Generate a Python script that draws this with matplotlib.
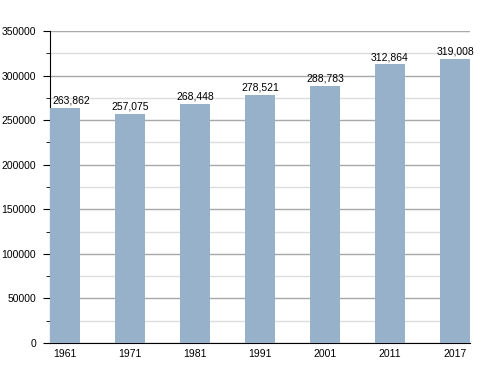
import matplotlib
matplotlib.use("Agg")
import matplotlib.pyplot as plt
from matplotlib.ticker import MultipleLocator

plt.rcParams["font.family"] = ["Liberation Sans", "DejaVu Sans"]

years = ["1961", "1971", "1981", "1991", "2001", "2011", "2017"]
population = [263862, 257075, 268448, 278521, 288783, 312864, 319008]
labels = ["263,862", "257,075", "268,448", "278,521", "288,783", "312,864", "319,008"]

fig = plt.figure(figsize=(5, 3.73), dpi=100)
ax = fig.add_axes([0.1, 0.0804, 0.84, 0.8366])

w = 0.46
x = list(range(len(years)))
ax.bar(x, population, width=w, color="#97b1cb", zorder=3)
for xi, v, lab in zip(x, population, labels):
    if xi == 0:
        # first label sits a bit to the right so it stays inside the axes
        ax.text(xi - w / 2 + 0.03, v + 4500, lab, ha="left", va="baseline",
                fontsize=7.5, color="black", zorder=4)
    else:
        ax.text(xi, v + 4500, lab, ha="center", va="baseline",
                fontsize=7.5, color="black", zorder=4)

ax.set_xlim(-w / 2, len(years) - 1 + w / 2)
ax.set_ylim(0, 350000)
ax.yaxis.set_major_locator(MultipleLocator(50000))
ax.yaxis.set_minor_locator(MultipleLocator(25000))
ax.grid(axis="y", which="major", color="#a8a8a8", linewidth=1, zorder=0)
ax.grid(axis="y", which="minor", color="#dddddd", linewidth=1, zorder=0)
ax.set_axisbelow(True)
ax.set_xticks(x)
ax.set_xticklabels(years)
ax.tick_params(axis="x", length=0, labelsize=7.5, pad=4)
ax.tick_params(axis="y", which="major", length=5, labelsize=7.5, direction="out", pad=5)
ax.tick_params(axis="y", which="minor", length=3, direction="out")
for s in ["top", "right"]:
    ax.spines[s].set_visible(False)
ax.spines["left"].set_color("black")
ax.spines["bottom"].set_color("black")

fig.savefig("out.png", dpi=100)
